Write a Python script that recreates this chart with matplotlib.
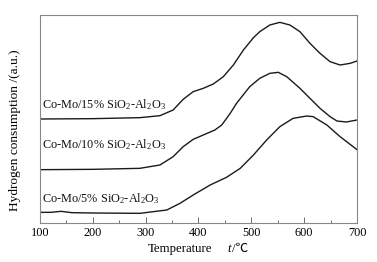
import matplotlib
matplotlib.use("Agg")
import matplotlib.pyplot as plt
from matplotlib.ticker import MultipleLocator, NullLocator

plt.rcParams['font.family'] = ['Liberation Serif', 'Noto Sans CJK SC', 'DejaVu Serif']
plt.rcParams['mathtext.fontset'] = 'custom'
plt.rcParams['mathtext.rm'] = 'Liberation Serif'
plt.rcParams['mathtext.it'] = 'Liberation Serif:italic'

temp_15 = [100, 200, 289, 327, 352, 371, 390, 409, 428, 447, 466, 485, 504, 516, 535, 554, 573, 592, 611, 630, 649, 668, 687, 700]
h2_15 = [286, 287, 290, 296, 313, 345, 368, 378, 391, 413, 448, 493, 530, 548, 568, 576, 568, 548, 513, 483, 458, 448, 453, 460]

temp_10 = [100, 200, 289, 327, 352, 371, 390, 409, 431, 444, 460, 472, 497, 516, 535, 551, 567, 592, 611, 630, 649, 662, 680, 700]
h2_10 = [134, 135, 138, 148, 173, 203, 225, 238, 253, 268, 303, 333, 383, 408, 423, 426, 413, 378, 348, 318, 293, 280, 277, 283]

temp_5 = [100, 120, 140, 160, 200, 289, 340, 365, 390, 422, 453, 479, 504, 529, 554, 579, 605, 617, 643, 668, 700]
h2_5 = [6, 6, 9, 5, 4, 3, 13, 33, 58, 88, 111, 138, 178, 223, 263, 288, 295, 293, 268, 233, 194]

labels = ["Co-Mo/15% SiO$_2$-Al$_2$O$_3$", "Co-Mo/10% SiO$_2$-Al$_2$O$_3$", "Co-Mo/5% SiO$_2$-Al$_2$O$_3$"]
label_pos = [(103, 328), (103, 208), (103, 47)]

W, H = 377, 262
fig = plt.figure(figsize=(W/100, H/100), dpi=100)
ax = fig.add_axes([40/W, 1-223/H, 317/W, 208/H])

for t, h in [(temp_15, h2_15), (temp_10, h2_10), (temp_5, h2_5)]:
    ax.plot(t, h, color='#1a1a1a', lw=1.0)

for lab, (x, y) in zip(labels, label_pos):
    ax.text(x, y, lab, fontsize=8.8, ha='left', va='center', color='#111111')

ax.set_xlim(100, 700)
ax.set_ylim(-26, 598)
ax.xaxis.set_major_locator(MultipleLocator(100))
ax.xaxis.set_minor_locator(MultipleLocator(50))
ax.yaxis.set_major_locator(NullLocator())
ax.tick_params(axis='x', which='major', direction='in', length=4, width=0.6, color='#555555', labelsize=8.8, pad=3)
ax.tick_params(axis='x', which='minor', direction='in', length=2.5, width=0.6, color='#555555')
for s in ax.spines.values():
    s.set_color('#888888')
    s.set_linewidth(0.8)

# x label composed of pieces
fig.text(148/W, 1-249/H, "Temperature", fontsize=9.2, ha='left', va='center')
fig.text(227/W, 1-249/H, "t", fontsize=9.2, ha='left', va='center', style='italic')
fig.text(232/W, 1-249/H, "/℃", fontsize=9.2, ha='left', va='center')

fig.text(15/W, 1-130/H, "Hydrogen consumption /(a.u.)", fontsize=9.6, rotation=90, ha='center', va='center')

fig.savefig("out.png", dpi=100)
